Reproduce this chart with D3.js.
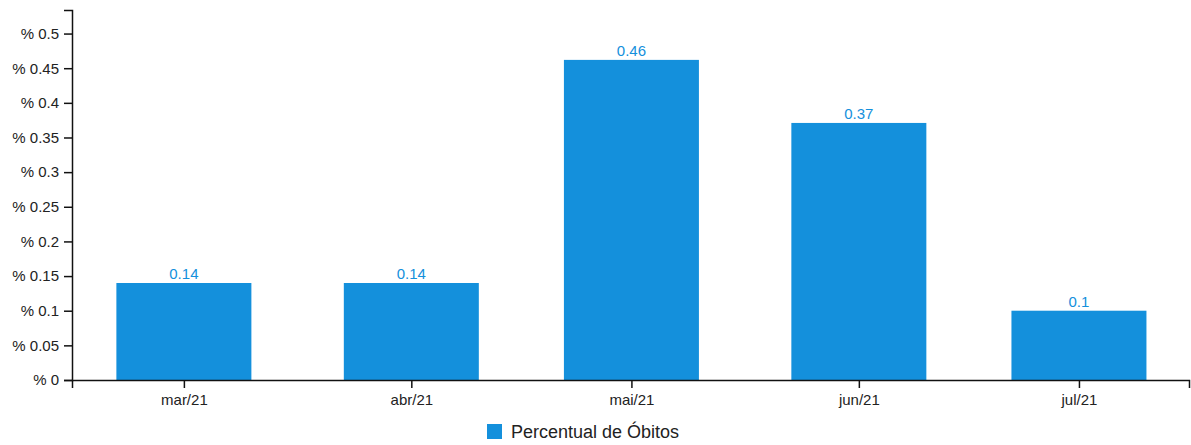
<!DOCTYPE html>
<html>
<head>
<meta charset="utf-8">
<script src="https://cdn.jsdelivr.net/npm/d3@7"></script>
<style>
  body { margin: 0; background: #fff; }
  svg { font-family: "Liberation Sans", Arial, sans-serif; }
</style>
</head>
<body>
<div id="chart"></div>
<script>
// months (first day) and their labels
const months = ["2021-03-01", "2021-04-01", "2021-05-01", "2021-06-01", "2021-07-01"];
const monthLabels = ["mar/21", "abr/21", "mai/21", "jun/21", "jul/21"];
const percentObitos = [0.14, 0.14, 0.462, 0.371, 0.1];
const yTicks = [0, 0.05, 0.1, 0.15, 0.2, 0.25, 0.3, 0.35, 0.4, 0.45, 0.5];
const yMax = 0.534;
const seriesName = "Percentual de Óbitos";

const width = 1191, height = 445;
const margin = {top: 10, right: 2, bottom: 65, left: 72};
const color = "#1490dc";
const barWidth = 135;

const parse = d3.utcParse("%Y-%m-%d");
const dates = months.map(parse);

const svg = d3.select("#chart").append("svg")
    .attr("width", width)
    .attr("height", height);

const g = svg.append("g")
    .attr("transform", `translate(${margin.left},${margin.top})`);

const innerW = width - margin.left - margin.right;
const innerH = height - margin.top - margin.bottom;

// half a month of padding on each side
const x = d3.scaleUtc()
    .domain([d3.utcHour.offset(dates[0], -366), d3.utcDay.offset(dates[dates.length - 1], 15)])
    .range([0, innerW]);

const y = d3.scaleLinear()
    .domain([0, yMax])
    .range([innerH, 0]);

// bars
g.selectAll("rect.bar")
    .data(percentObitos)
    .enter().append("rect")
    .attr("class", "bar")
    .attr("x", (d, i) => x(dates[i]) - barWidth / 2)
    .attr("y", d => y(d))
    .attr("width", barWidth)
    .attr("height", d => y(0) - y(d))
    .attr("fill", color);

// value labels
g.selectAll("text.value")
    .data(percentObitos)
    .enter().append("text")
    .attr("class", "value")
    .attr("x", (d, i) => x(dates[i]))
    .attr("y", d => y(d) - 4)
    .attr("text-anchor", "middle")
    .attr("fill", color)
    .style("font-size", "15px")
    .text(d => +d.toFixed(2));

// axes
const xAxis = d3.axisBottom(x)
    .tickValues(dates)
    .tickFormat((d, i) => monthLabels[i])
    .tickSize(8)
    .tickPadding(6);

const yAxis = d3.axisLeft(y)
    .tickValues(yTicks)
    .tickFormat(d => "% " + d)
    .tickSize(8)
    .tickPadding(5);

const gx = g.append("g")
    .attr("transform", `translate(0,${innerH})`)
    .call(xAxis);

const gy = g.append("g").call(yAxis);

[gx, gy].forEach(a => {
    a.selectAll("path, line").attr("stroke", "#111").attr("stroke-width", 1.5);
    a.selectAll("text").attr("fill", "#222").style("font-size", "15px");
});

// legend
const legend = svg.append("g")
    .attr("transform", "translate(487,424)");

legend.append("rect")
    .attr("width", 15)
    .attr("height", 15)
    .attr("fill", color);

legend.append("text")
    .attr("x", 24)
    .attr("y", 14)
    .attr("fill", "#222")
    .style("font-size", "18px")
    .text(seriesName);
</script>
</body>
</html>
